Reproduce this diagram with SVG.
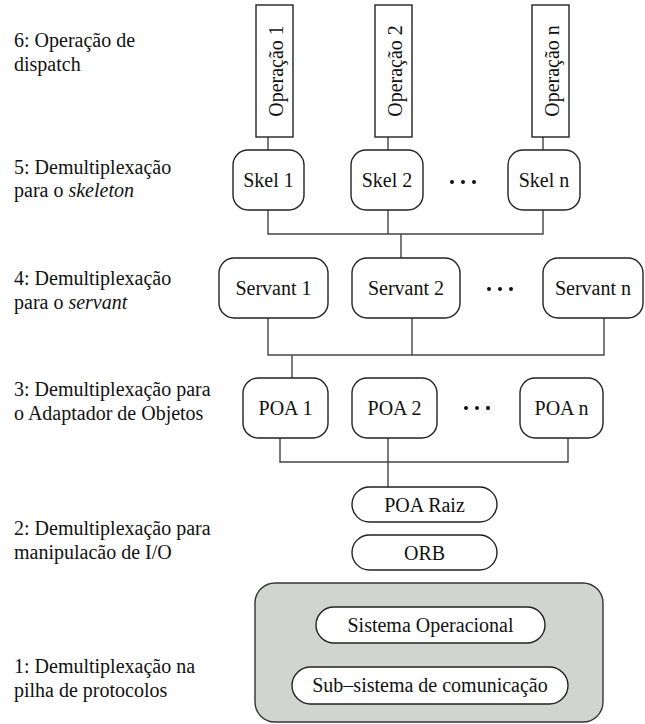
<svg xmlns="http://www.w3.org/2000/svg" width="645" height="724" viewBox="0 0 645 724">
  <style>
    text { font-size: 20px; fill: #111; }
    .box { fill: #fff; stroke: #222; stroke-width: 1.4; }
    .wire { fill: none; stroke: #444; stroke-width: 1.4; }
    .dot { fill: #111; }
  </style>

  <rect width="645" height="724" fill="#fff"/>

  <!-- layer captions -->
  <g id="captions">
    <text x="14" y="47" font-family="Liberation Serif, DejaVu Serif, serif">6: Operação de</text>
    <text x="14" y="71" font-family="Liberation Serif, DejaVu Serif, serif">dispatch</text>
    <text x="14" y="174" font-family="Liberation Serif, DejaVu Serif, serif">5: Demultiplexação</text>
    <text x="14" y="197" font-family="Liberation Serif, DejaVu Serif, serif">para o <tspan font-style="italic">skeleton</tspan></text>
    <text x="14" y="285" font-family="Liberation Serif, DejaVu Serif, serif">4: Demultiplexação</text>
    <text x="14" y="309" font-family="Liberation Serif, DejaVu Serif, serif">para o <tspan font-style="italic">servant</tspan></text>
    <text x="14" y="396" font-family="Liberation Serif, DejaVu Serif, serif">3: Demultiplexação para</text>
    <text x="14" y="420" font-family="Liberation Serif, DejaVu Serif, serif">o Adaptador de Objetos</text>
    <text x="14" y="535" font-family="Liberation Serif, DejaVu Serif, serif">2: Demultiplexação para</text>
    <text x="14" y="559" font-family="Liberation Serif, DejaVu Serif, serif">manipulacão de I/O</text>
    <text x="14" y="673" font-family="Liberation Serif, DejaVu Serif, serif">1: Demultiplexação na</text>
    <text x="14" y="697" font-family="Liberation Serif, DejaVu Serif, serif">pilha de protocolos</text>
  </g>

  <!-- connectors -->
  <g id="connectors" class="wire">
    <path d="M268 137V150M388 137V150M543 137V150"/>
    <path d="M268 210V234H543V210M388 210V234M401 234V258"/>
    <path d="M268 318V355H604V318M412 318V355M292 355V378"/>
    <path d="M280 438V462H568V438M388 438V487"/>
  </g>

  <!-- operations -->
  <g id="op1">
    <rect class="box" x="256" y="5" width="37" height="132"/>
    <text x="0" y="0" font-family="Liberation Serif, DejaVu Serif, serif" text-anchor="middle" transform="translate(283 71) rotate(-90)">Operação 1</text>
  </g>
  <g id="op2">
    <rect class="box" x="375" y="5" width="37" height="132"/>
    <text x="0" y="0" font-family="Liberation Serif, DejaVu Serif, serif" text-anchor="middle" transform="translate(402 71) rotate(-90)">Operação 2</text>
  </g>
  <g id="opn">
    <rect class="box" x="532" y="5" width="37" height="132"/>
    <text x="0" y="0" font-family="Liberation Serif, DejaVu Serif, serif" text-anchor="middle" transform="translate(559 71) rotate(-90)">Operação n</text>
  </g>

  <!-- skeletons -->
  <g id="skel1">
    <rect class="box" x="233" y="150" width="71" height="60" rx="15"/>
    <text x="268.5" y="187" font-family="Liberation Serif, DejaVu Serif, serif" text-anchor="middle">Skel 1</text>
  </g>
  <g id="skel2">
    <rect class="box" x="351" y="150" width="72" height="60" rx="15"/>
    <text x="387" y="187" font-family="Liberation Serif, DejaVu Serif, serif" text-anchor="middle">Skel 2</text>
  </g>
  <g id="skel-ellipsis" class="dot">
    <circle cx="452" cy="182" r="2"/><circle cx="463" cy="182" r="2"/><circle cx="474" cy="182" r="2"/>
  </g>
  <g id="skeln">
    <rect class="box" x="508" y="150" width="72" height="60" rx="15"/>
    <text x="544" y="187" font-family="Liberation Serif, DejaVu Serif, serif" text-anchor="middle">Skel n</text>
  </g>

  <!-- servants -->
  <g id="servant1">
    <rect class="box" x="219" y="258" width="109" height="60" rx="15"/>
    <text x="273.5" y="295" font-family="Liberation Serif, DejaVu Serif, serif" text-anchor="middle">Servant 1</text>
  </g>
  <g id="servant2">
    <rect class="box" x="352" y="258" width="108" height="60" rx="15"/>
    <text x="406" y="295" font-family="Liberation Serif, DejaVu Serif, serif" text-anchor="middle">Servant 2</text>
  </g>
  <g id="servant-ellipsis" class="dot">
    <circle cx="489" cy="289" r="2"/><circle cx="500" cy="289" r="2"/><circle cx="511" cy="289" r="2"/>
  </g>
  <g id="servantn">
    <rect class="box" x="543" y="258" width="100" height="60" rx="15"/>
    <text x="593" y="295" font-family="Liberation Serif, DejaVu Serif, serif" text-anchor="middle">Servant n</text>
  </g>

  <!-- object adapters -->
  <g id="poa1">
    <rect class="box" x="243" y="378" width="85" height="60" rx="15"/>
    <text x="285.5" y="415" font-family="Liberation Serif, DejaVu Serif, serif" text-anchor="middle">POA 1</text>
  </g>
  <g id="poa2">
    <rect class="box" x="352" y="378" width="85" height="60" rx="15"/>
    <text x="394.5" y="415" font-family="Liberation Serif, DejaVu Serif, serif" text-anchor="middle">POA 2</text>
  </g>
  <g id="poa-ellipsis" class="dot">
    <circle cx="466" cy="408" r="2"/><circle cx="477" cy="408" r="2"/><circle cx="488" cy="408" r="2"/>
  </g>
  <g id="poan">
    <rect class="box" x="520" y="378" width="83" height="60" rx="15"/>
    <text x="561.5" y="415" font-family="Liberation Serif, DejaVu Serif, serif" text-anchor="middle">POA n</text>
  </g>

  <g id="poaraiz">
    <rect class="box" x="352" y="487" width="145" height="35" rx="17.5"/>
    <text x="424.5" y="512" font-family="Liberation Serif, DejaVu Serif, serif" text-anchor="middle">POA Raiz</text>
  </g>
  <g id="orb">
    <rect class="box" x="352" y="535" width="145" height="35" rx="17.5"/>
    <text x="424.5" y="560" font-family="Liberation Serif, DejaVu Serif, serif" text-anchor="middle">ORB</text>
  </g>

  <!-- operating system block -->
  <g id="os">
    <rect x="255" y="583" width="348" height="139" rx="20" fill="#d1d5d0" stroke="#333" stroke-width="1.4"/>
    <g id="sistema">
      <rect class="box" x="316" y="607" width="229" height="36" rx="18"/>
      <text x="430.5" y="632" font-family="Liberation Serif, DejaVu Serif, serif" text-anchor="middle">Sistema Operacional</text>
    </g>
    <g id="subsistema">
      <rect class="box" x="292" y="667" width="276" height="37" rx="18.5"/>
      <text x="430" y="692" font-family="Liberation Serif, DejaVu Serif, serif" text-anchor="middle">Sub–sistema de comunicação</text>
    </g>
  </g>
</svg>
